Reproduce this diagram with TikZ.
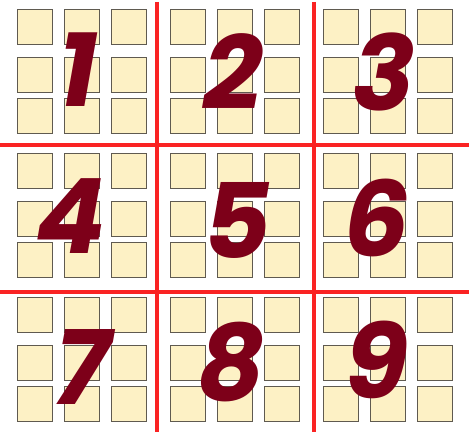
\documentclass[tikz,border=0pt]{standalone}
\usepackage{fontspec}
\setmainfont{Poppins}
\begin{document}
\definecolor{cellfill}{RGB}{253,241,197}
\definecolor{cellline}{RGB}{95,90,80}
\definecolor{gridred}{RGB}{250,35,35}
\definecolor{digitred}{RGB}{125,0,25}
\tikzset{
  cell/.style={fill=cellfill,draw=cellline,line width=0.8pt},
  gridline/.style={draw=gridred,line width=4pt},
  digit/.style={text=digitred,inner sep=0pt,font=\fontsize{104}{104}\selectfont\bfseries\itshape}
}
\begin{tikzpicture}[x=1pt,y=-1pt]
\useasboundingbox (0,0) rectangle (469,436);
\fill[white] (0,0) rectangle (469,436);
\foreach \bx in {17,170,323}{
  \foreach \by in {9,153,297}{
    \foreach \cx in {0,47,94}{
      \foreach \cy in {0,48,89}{
        \draw[cell] (\bx+\cx,\by+\cy) rectangle ++(35,35);
      }
    }
  }
}
\coordinate (v1t) at (157,2);   \coordinate (v1b) at (157,432);
\coordinate (v2t) at (314,2);   \coordinate (v2b) at (314,432);
\coordinate (h1l) at (0,145);   \coordinate (h1r) at (469,145);
\coordinate (h2l) at (0,292);   \coordinate (h2r) at (469,292);
\draw[gridline] (v1t) -- (v1b);
\draw[gridline] (v2t) -- (v2b);
\draw[gridline] (h1l) -- (h1r);
\draw[gridline] (h2l) -- (h2r);
\node[digit] (d1) at (78,70) {1};
\node[digit] (d2) at (233,72) {2};
\node[digit] (d3) at (384,72) {3};
\node[digit] (d4) at (71,216) {4};
\node[digit] (d5) at (237,220) {5};
\node[digit] (d6) at (377,218) {6};
\node[digit] (d7) at (82,367) {7};
\node[digit] (d8) at (231,362) {8};
\node[digit] (d9) at (376,360) {9};
\end{tikzpicture}
\end{document}
